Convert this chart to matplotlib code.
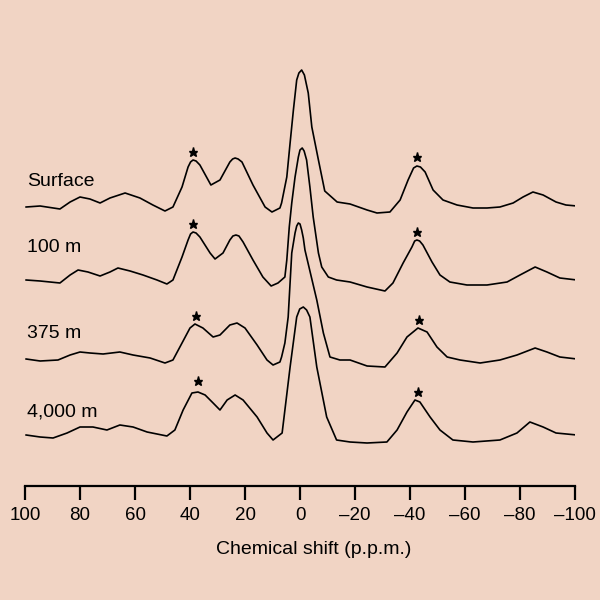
"""Stacked NMR spectra at four depths, chemical shift axis reversed."""
import matplotlib
matplotlib.use("Agg")
import matplotlib.pyplot as plt

plt.rcParams["font.family"] = ["Liberation Sans", "DejaVu Sans"]

# --- data: ppm positions and height above each baseline ---
surface_ppm = [99.6, 94.5, 87.3, 83.6, 80.0, 76.4, 72.7, 69.1, 63.6, 58.2, 53.5, 49.1,
               46.2, 42.9, 40.7, 39.8, 38.9, 37.8, 36.4, 32.4, 29.1, 25.5, 24.5, 23.6,
               22.5, 21.1, 17.1, 12.7, 10.2, 7.3, 6.7, 4.8, 3.6, 2.4, 1.2, 0.4, -0.6,
               -1.6, -3.0, -4.3, -6.7, -9.0, -13.5, -18.2, -24.4, -28.0, -32.7, -36.4,
               -39.3, -41.3, -42.5, -43.8, -45.5, -48.4, -52.0, -57.1, -62.9, -68.0,
               -72.7, -77.5, -81.1, -84.7, -88.4, -93.1, -96.7, -100.7]
surface_int = [0, 1, -2, 5, 10, 8, 4, 9, 14, 9, 2, -4,
               0, 20, 40, 45, 47, 46, 42, 22, 27, 45, 48, 49,
               48, 45, 22, 0, -5, -1, 4, 30, 64, 97, 127, 134, 137,
               132, 114, 80, 47, 16, 5, 3, -3, -6, -5, 7,
               27, 39, 41, 40, 35, 17, 7, 2, -1, -1,
               0, 4, 10, 15, 12, 5, 2, 1]

m100_ppm = [99.6, 94.5, 87.3, 83.6, 80.7, 77.1, 72.7, 69.1, 66.2, 61.8, 57.1, 52.0,
            48.4, 46.2, 42.9, 40.7, 39.8, 38.9, 37.8, 36.4, 32.7, 30.9, 28.0, 25.5,
            24.4, 23.3, 22.2, 20.7, 17.1, 13.5, 10.5, 8.0, 5.5, 4.8, 3.9, 3.0, 1.8,
            0.6, 0.0, -0.8, -1.5, -2.4, -3.6, -4.8, -6.7, -7.9, -10.3, -13.3, -18.2,
            -24.4, -30.9, -33.8, -37.5, -40.7, -41.7, -42.5, -43.5, -44.7, -48.0,
            -50.9, -54.5, -60.7, -68.0, -75.3, -80.0, -85.5, -89.8, -94.5, -100.7]
m100_int = [1, 0, -2, 6, 11, 9, 5, 9, 13, 10, 6, 1,
            -3, 1, 24, 41, 47, 49, 48, 44, 28, 22, 28, 41,
            45, 46, 45, 39, 21, 4, -5, -2, 4, 21, 54, 78, 104,
            124, 131, 133, 130, 121, 94, 64, 28, 14, 4, 1, -1,
            -6, -10, -2, 18, 34, 40, 41, 40, 36, 19,
            6, -1, -4, -4, -1, 6, 14, 9, 3, 1]

m375_ppm = [99.6, 94.5, 88.0, 83.6, 80.0, 76.4, 71.6, 65.5, 60.7, 54.5, 49.1, 46.2,
            42.9, 40.0, 38.2, 35.3, 31.6, 29.1, 25.5, 22.9, 20.0, 15.6, 12.0, 9.8,
            7.3, 6.7, 5.5, 4.3, 3.0, 1.8, 1.2, 0.6, 0.0, -0.6, -1.2, -1.8, -6.1,
            -8.5, -10.9, -14.5, -18.2, -24.4, -30.9, -35.3, -38.9, -42.9, -46.2,
            -49.8, -53.5, -58.2, -65.5, -72.7, -78.9, -85.5, -89.8, -94.5, -100.7]
m375_int = [-1, -3, -2, 3, 6, 5, 4, 6, 3, 0, -5, -2,
            15, 30, 34, 30, 21, 23, 33, 35, 30, 13, -2, -7,
            -4, 1, 15, 41, 105, 125, 132, 135, 134, 128, 120, 108, 58,
            25, 1, -2, -2, -8, -9, 5, 21, 30, 26,
            11, 1, -2, -5, -2, 3, 10, 6, 1, -1]

m4000_ppm = [99.6, 94.5, 89.8, 84.7, 80.0, 75.3, 70.2, 65.5, 60.7, 55.6, 48.4, 45.5,
             42.5, 39.3, 37.1, 34.5, 31.6, 29.1, 26.5, 23.6, 20.7, 15.6, 12.0, 9.8,
             6.5, 3.6, 1.2, 0.1, -1.2, -2.4, -3.6, -6.1, -9.7, -13.3, -18.2, -24.4,
             -31.6, -35.3, -38.9, -41.8, -43.6, -47.3, -50.9, -55.6, -62.9, -72.7,
             -78.9, -83.6, -88.4, -93.1, -100.7]
m4000_int = [0, -2, -3, 2, 8, 8, 5, 10, 8, 3, -1, 5,
             25, 42, 43, 40, 32, 25, 35, 40, 35, 18, 2, -5,
             2, 68, 118, 126, 128, 125, 118, 68, 18, -5, -7, -8,
             -7, 5, 23, 35, 33, 18, 5, -5, -7, -5,
             2, 13, 8, 2, 0]

depth_labels = ["Surface", "100 m", "375 m", "4,000 m"]
offsets = [279, 205, 128, 51]          # baseline height of each trace
label_y = [304, 238, 152, 74]
star_ppm = [[38.9, -42.5], [38.9, -42.5], [37.8, -43.3], [37.1, -42.9]]
star_y = [[334, 329], [262, 254], [170, 166], [105, 94]]

tick_vals = list(range(100, -101, -20))
tick_text = [str(v) if v >= 0 else "\u2013" + str(-v) for v in tick_vals]

traces = [(surface_ppm, surface_int), (m100_ppm, m100_int),
          (m375_ppm, m375_int), (m4000_ppm, m4000_int)]

fig = plt.figure(figsize=(6, 6), dpi=100)
fig.patch.set_facecolor("#f1d4c4")
ax = fig.add_axes([25 / 600, 114 / 600, 550 / 600, 446 / 600])
ax.set_facecolor("none")

for (ppm, inten), off in zip(traces, offsets):
    ax.plot(ppm, [v + off for v in inten], color="black", lw=1.2,
            solid_joinstyle="round")

for lab, ly in zip(depth_labels, label_y):
    ax.text(99.3, ly, lab, ha="left", va="center", fontsize=14)

for sx, sy in zip(star_ppm, star_y):
    ax.plot(sx, sy, ls="none", marker="*", color="black", ms=6.5)

ax.set_xlim(100, -100)
ax.set_ylim(0, 446)
for s in ("top", "left", "right"):
    ax.spines[s].set_visible(False)
ax.spines["bottom"].set_linewidth(1.6)
ax.set_yticks([])
ax.set_xticks(tick_vals, tick_text)
ax.tick_params(axis="x", direction="out", length=10, width=1.6, pad=5, labelsize=13.5)

fig.text(314 / 600, 1 - 550 / 600, "Chemical shift (p.p.m.)", ha="center",
         va="center", fontsize=14)

fig.savefig("out.png", dpi=100, facecolor=fig.get_facecolor())
